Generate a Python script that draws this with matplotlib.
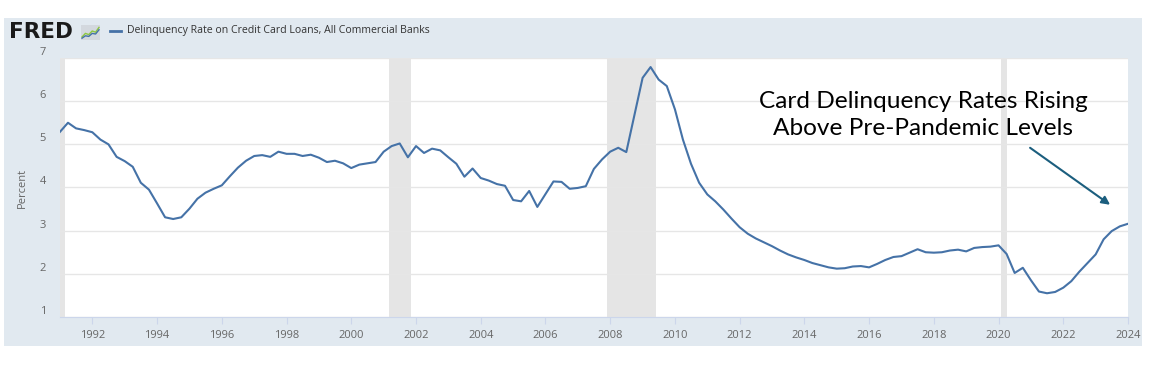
import numpy as np
import pandas as pd
import matplotlib
matplotlib.use('Agg')
import matplotlib.pyplot as plt
from matplotlib.patches import Rectangle
import matplotlib.dates as mdates

# quarterly delinquency rate, 1991Q1 .. 2024Q1
rate = [
    5.29, 5.50, 5.37, 5.33,   # 1991
    5.28, 5.11, 5.00, 4.71,   # 1992
    4.61, 4.48, 4.11, 3.95,   # 1993
    3.63, 3.31, 3.27, 3.31,   # 1994
    3.51, 3.74, 3.88, 3.97,   # 1995
    4.05, 4.26, 4.46, 4.62,   # 1996
    4.73, 4.75, 4.71, 4.83,   # 1997
    4.78, 4.78, 4.73, 4.76,   # 1998
    4.69, 4.59, 4.62, 4.56,   # 1999
    4.45, 4.53, 4.56, 4.59,   # 2000
    4.83, 4.96, 5.02, 4.70,   # 2001
    4.96, 4.80, 4.90, 4.86,   # 2002
    4.70, 4.55, 4.25, 4.44,   # 2003
    4.22, 4.16, 4.08, 4.04,   # 2004
    3.71, 3.68, 3.92, 3.55,   # 2005
    3.85, 4.14, 4.13, 3.97,   # 2006
    3.99, 4.03, 4.43, 4.65,   # 2007
    4.83, 4.92, 4.82, 5.68,   # 2008
    6.54, 6.79, 6.50, 6.35,   # 2009
    5.81, 5.11, 4.55, 4.11,   # 2010
    3.84, 3.68, 3.49, 3.28,   # 2011
    3.08, 2.93, 2.82, 2.73,   # 2012
    2.64, 2.54, 2.45, 2.38,   # 2013
    2.32, 2.25, 2.20, 2.15,   # 2014
    2.12, 2.13, 2.17, 2.18,   # 2015
    2.15, 2.23, 2.32, 2.39,   # 2016
    2.41, 2.49, 2.57, 2.50,   # 2017
    2.49, 2.50, 2.54, 2.56,   # 2018
    2.52, 2.60, 2.62, 2.63,   # 2019
    2.66, 2.46, 2.02, 2.14,   # 2020
    1.85, 1.59, 1.55, 1.58,   # 2021
    1.68, 1.83, 2.05, 2.25,   # 2022
    2.45, 2.80, 2.99, 3.10,   # 2023
    3.16,                     # 2024
]
dates = pd.date_range('1991-01-01', periods=len(rate), freq='QS')

rec_start = ['1990-07-01', '2001-03-01', '2007-12-01', '2020-02-01']
rec_end = ['1991-03-01', '2001-11-01', '2009-06-01', '2020-04-01']

series_name = 'Delinquency Rate on Credit Card Loans, All Commercial Banks'
note = 'Card Delinquency Rates Rising\nAbove Pre-Pandemic Levels'

# tiny logo icon lines
icon_x = [0, 1, 2, 3, 4, 5]
icon_g = [1.0, 2.2, 1.8, 3.0, 2.6, 4.2]
icon_b = [0.6, 1.4, 1.2, 2.2, 2.0, 3.4]

W, H = 1174, 382
fig = plt.figure(figsize=(W / 100, H / 100), dpi=100)
fig.patch.set_facecolor('white')

# fred panel background
fig.patches.append(Rectangle((4 / W, 1 - 346 / H), 1138 / W, 328 / H,
                             transform=fig.transFigure, facecolor='#e1e9f0',
                             edgecolor='none', zorder=-10))

ax = fig.add_axes([60 / W, 1 - 317 / H, 1068 / W, 259 / H])
ax.set_facecolor('white')

for s, e in zip(rec_start, rec_end):
    ax.axvspan(pd.Timestamp(s), pd.Timestamp(e), color='#e5e5e5', lw=0, zorder=1)

ax.plot(dates, rate, color='#4572a7', lw=1.5, zorder=3)

ax.set_xlim(dates[0], dates[-1])
ax.set_ylim(1, 7)
ax.set_yticks(range(1, 8))
ax.grid(axis='y', color='#e6e6e6', lw=1, zorder=0)
ax.xaxis.set_major_locator(mdates.YearLocator(2))
ax.xaxis.set_major_formatter(mdates.DateFormatter('%Y'))

for sp in ['top', 'right', 'left']:
    ax.spines[sp].set_visible(False)
ax.spines['bottom'].set_color('#ccd6eb')
ax.tick_params(axis='x', length=5, color='#ccd6eb', pad=4, labelsize=8, labelcolor='#666666')
ax.tick_params(axis='y', length=0, pad=10, labelsize=8, labelcolor='#666666')
for lbl in ax.get_xticklabels() + ax.get_yticklabels():
    lbl.set_family('Open Sans')
for lbl in ax.get_yticklabels():
    lbl.set_va('bottom')

fig.text(22 / W, 1 - 188 / H, 'Percent', rotation=90, ha='center', va='center',
         fontsize=8, color='#666666', family='Open Sans')

# header
fig.text(9 / W, 1 - 32 / H, 'FRED', fontsize=15.5, fontweight='bold',
         family='DejaVu Sans', color='#1a1a1a', va='center')
iax = fig.add_axes([81 / W, 1 - 40 / H, 19 / W, 15 / H])
iax.set_facecolor('#d3d8de')
iax.plot(icon_x, icon_g, color='#8cc63f', lw=1)
iax.plot(icon_x, icon_b, color='#4572a7', lw=1)
iax.set_xlim(-0.3, 5.3)
iax.set_ylim(0, 5)
iax.set_xticks([])
iax.set_yticks([])
for sp in iax.spines.values():
    sp.set_visible(False)

fig.lines.append(plt.Line2D([110 / W, 121 / W], [1 - 31 / H, 1 - 31 / H],
                            transform=fig.transFigure, color='#4572a7', lw=2))
fig.text(127 / W, 1 - 31 / H, series_name, fontsize=7.6, color='#333333',
         family='Open Sans', va='center')

# annotation
ax.text(pd.Timestamp('2017-09-01'), 5.68, note, ha='center', va='center',
        fontsize=17.6, family='Lato', color='black', linespacing=1.38, zorder=4)
ax.annotate('', xy=(pd.Timestamp('2023-06-13'), 3.6),
            xytext=(pd.Timestamp('2020-12-22'), 4.92),
            arrowprops=dict(arrowstyle='-|>', color='#1b5e7e', lw=1.5,
                            mutation_scale=12, shrinkA=0, shrinkB=0), zorder=4)

fig.savefig('out.png', dpi=100)
